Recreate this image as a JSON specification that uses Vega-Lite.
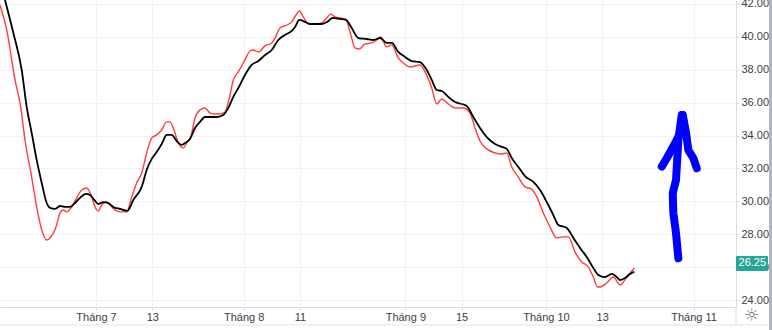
{
  "$schema": "https://vega.github.io/schema/vega-lite/v6.json",
  "width": 736,
  "height": 307,
  "autosize": {"type": "none"},
  "padding": {"left": 0, "top": 0, "right": 36, "bottom": 23},
  "background": "white",
  "config": {"view": {"stroke": null}, "font": "Liberation Sans", "axis": {"labelOverlap": false}},
  "datasets": {
    "ma": [
      {"s":"fast","bar":0.34,"v":41.94},{"s":"fast","bar":1.30,"v":40.42},{"s":"fast","bar":2.48,"v":37.38},{"s":"fast","bar":3.29,"v":35.74},{"s":"fast","bar":3.90,"v":33.73},{"s":"fast","bar":4.85,"v":31.48},{"s":"fast","bar":5.56,"v":29.66},{"s":"fast","bar":6.28,"v":28.26},{"s":"fast","bar":6.99,"v":27.65},{"s":"fast","bar":7.46,"v":27.78},{"s":"fast","bar":8.31,"v":28.44},{"s":"fast","bar":8.88,"v":29.29},{"s":"fast","bar":9.35,"v":29.48},{"s":"fast","bar":9.83,"v":29.36},{"s":"fast","bar":10.54,"v":29.66},{"s":"fast","bar":11.25,"v":30.21},{"s":"fast","bar":11.97,"v":30.69},{"s":"fast","bar":12.68,"v":30.81},{"s":"fast","bar":13.39,"v":30.27},{"s":"fast","bar":13.86,"v":29.66},{"s":"fast","bar":14.33,"v":29.42},{"s":"fast","bar":14.81,"v":29.78},{"s":"fast","bar":15.42,"v":29.96},{"s":"fast","bar":15.99,"v":29.78},{"s":"fast","bar":16.70,"v":29.48},{"s":"fast","bar":17.41,"v":29.36},{"s":"fast","bar":18.37,"v":29.36},{"s":"fast","bar":19.08,"v":30.27},{"s":"fast","bar":19.79,"v":31.12},{"s":"fast","bar":20.50,"v":31.73},{"s":"fast","bar":21.21,"v":32.94},{"s":"fast","bar":21.92,"v":33.85},{"s":"fast","bar":22.63,"v":34.04},{"s":"fast","bar":23.34,"v":34.34},{"s":"fast","bar":24.06,"v":34.83},{"s":"fast","bar":24.53,"v":34.83},{"s":"fast","bar":25.09,"v":34.34},{"s":"fast","bar":25.71,"v":33.55},{"s":"fast","bar":26.42,"v":33.25},{"s":"fast","bar":26.90,"v":33.55},{"s":"fast","bar":27.47,"v":33.91},{"s":"fast","bar":28.08,"v":35.07},{"s":"fast","bar":28.79,"v":35.56},{"s":"fast","bar":29.50,"v":35.68},{"s":"fast","bar":30.22,"v":35.37},{"s":"fast","bar":30.93,"v":35.31},{"s":"fast","bar":31.64,"v":35.31},{"s":"fast","bar":32.35,"v":35.43},{"s":"fast","bar":32.96,"v":36.29},{"s":"fast","bar":33.53,"v":37.38},{"s":"fast","bar":34.24,"v":37.87},{"s":"fast","bar":34.95,"v":38.41},{"s":"fast","bar":35.19,"v":38.60},{"s":"fast","bar":35.90,"v":39.14},{"s":"fast","bar":36.37,"v":39.20},{"s":"fast","bar":37.09,"v":39.08},{"s":"fast","bar":38.04,"v":39.45},{"s":"fast","bar":38.99,"v":39.63},{"s":"fast","bar":39.46,"v":39.93},{"s":"fast","bar":40.17,"v":40.54},{"s":"fast","bar":41.13,"v":40.72},{"s":"fast","bar":41.84,"v":40.91},{"s":"fast","bar":42.45,"v":41.33},{"s":"fast","bar":42.92,"v":41.57},{"s":"fast","bar":43.49,"v":41.21},{"s":"fast","bar":44.20,"v":40.78},{"s":"fast","bar":45.15,"v":40.78},{"s":"fast","bar":46.11,"v":40.84},{"s":"fast","bar":46.82,"v":41.15},{"s":"fast","bar":47.39,"v":41.39},{"s":"fast","bar":48.00,"v":41.21},{"s":"fast","bar":48.71,"v":41.15},{"s":"fast","bar":49.56,"v":41.03},{"s":"fast","bar":50.13,"v":40.30},{"s":"fast","bar":50.84,"v":39.33},{"s":"fast","bar":51.45,"v":39.26},{"s":"fast","bar":52.26,"v":39.57},{"s":"fast","bar":53.22,"v":39.63},{"s":"fast","bar":53.93,"v":39.81},{"s":"fast","bar":54.50,"v":39.99},{"s":"fast","bar":55.35,"v":39.39},{"s":"fast","bar":56.06,"v":39.51},{"s":"fast","bar":57.00,"v":38.72},{"s":"fast","bar":57.71,"v":38.41},{"s":"fast","bar":58.66,"v":38.17},{"s":"fast","bar":60.09,"v":38.29},{"s":"fast","bar":60.80,"v":37.87},{"s":"fast","bar":61.75,"v":36.89},{"s":"fast","bar":62.46,"v":35.92},{"s":"fast","bar":63.17,"v":36.22},{"s":"fast","bar":64.11,"v":35.92},{"s":"fast","bar":65.07,"v":35.68},{"s":"fast","bar":66.25,"v":35.68},{"s":"fast","bar":67.20,"v":35.37},{"s":"fast","bar":67.91,"v":34.46},{"s":"fast","bar":68.62,"v":33.67},{"s":"fast","bar":69.58,"v":33.19},{"s":"fast","bar":70.76,"v":32.94},{"s":"fast","bar":71.71,"v":32.88},{"s":"fast","bar":72.42,"v":32.94},{"s":"fast","bar":73.13,"v":32.09},{"s":"fast","bar":74.07,"v":31.48},{"s":"fast","bar":75.02,"v":30.88},{"s":"fast","bar":75.98,"v":30.75},{"s":"fast","bar":76.69,"v":30.27},{"s":"fast","bar":77.63,"v":29.29},{"s":"fast","bar":78.58,"v":28.44},{"s":"fast","bar":79.53,"v":27.78},{"s":"fast","bar":80.47,"v":27.84},{"s":"fast","bar":81.18,"v":27.84},{"s":"fast","bar":82.14,"v":26.92},{"s":"fast","bar":83.09,"v":26.32},{"s":"fast","bar":84.03,"v":26.01},{"s":"fast","bar":84.74,"v":25.40},{"s":"fast","bar":85.31,"v":24.80},{"s":"fast","bar":85.69,"v":24.80},{"s":"fast","bar":86.64,"v":25.04},{"s":"fast","bar":87.58,"v":25.40},{"s":"fast","bar":88.54,"v":24.92},{"s":"fast","bar":89.49,"v":25.40},{"s":"fast","bar":90.57,"v":25.95},
      {"s":"slow","bar":0.34,"v":43.46},{"s":"slow","bar":1.06,"v":42.24},{"s":"slow","bar":2.24,"v":40.24},{"s":"slow","bar":3.43,"v":37.99},{"s":"slow","bar":4.14,"v":35.74},{"s":"slow","bar":4.85,"v":34.16},{"s":"slow","bar":5.56,"v":32.52},{"s":"slow","bar":6.28,"v":31.12},{"s":"slow","bar":6.99,"v":29.90},{"s":"slow","bar":7.46,"v":29.60},{"s":"slow","bar":8.17,"v":29.54},{"s":"slow","bar":8.88,"v":29.72},{"s":"slow","bar":9.59,"v":29.66},{"s":"slow","bar":10.30,"v":29.66},{"s":"slow","bar":11.01,"v":29.90},{"s":"slow","bar":11.72,"v":30.21},{"s":"slow","bar":12.58,"v":30.45},{"s":"slow","bar":13.14,"v":30.39},{"s":"slow","bar":13.76,"v":30.09},{"s":"slow","bar":14.33,"v":29.84},{"s":"slow","bar":15.04,"v":29.96},{"s":"slow","bar":15.75,"v":29.90},{"s":"slow","bar":16.46,"v":29.66},{"s":"slow","bar":17.41,"v":29.54},{"s":"slow","bar":18.45,"v":29.42},{"s":"slow","bar":19.31,"v":30.09},{"s":"slow","bar":20.50,"v":30.88},{"s":"slow","bar":21.21,"v":31.91},{"s":"slow","bar":21.92,"v":32.58},{"s":"slow","bar":22.63,"v":33.00},{"s":"slow","bar":23.34,"v":33.49},{"s":"slow","bar":24.06,"v":34.04},{"s":"slow","bar":24.77,"v":34.04},{"s":"slow","bar":25.48,"v":33.67},{"s":"slow","bar":26.19,"v":33.43},{"s":"slow","bar":26.66,"v":33.55},{"s":"slow","bar":27.37,"v":33.79},{"s":"slow","bar":28.08,"v":34.46},{"s":"slow","bar":28.79,"v":34.83},{"s":"slow","bar":29.50,"v":35.13},{"s":"slow","bar":30.46,"v":35.13},{"s":"slow","bar":31.17,"v":35.13},{"s":"slow","bar":32.11,"v":35.25},{"s":"slow","bar":32.82,"v":35.68},{"s":"slow","bar":33.53,"v":36.35},{"s":"slow","bar":34.24,"v":36.89},{"s":"slow","bar":35.19,"v":37.68},{"s":"slow","bar":36.14,"v":38.29},{"s":"slow","bar":37.09,"v":38.53},{"s":"slow","bar":38.04,"v":38.90},{"s":"slow","bar":38.99,"v":39.20},{"s":"slow","bar":39.93,"v":39.81},{"s":"slow","bar":40.88,"v":40.12},{"s":"slow","bar":41.84,"v":40.36},{"s":"slow","bar":42.31,"v":40.60},{"s":"slow","bar":42.92,"v":41.03},{"s":"slow","bar":43.73,"v":40.91},{"s":"slow","bar":44.44,"v":40.78},{"s":"slow","bar":46.11,"v":40.78},{"s":"slow","bar":46.90,"v":40.91},{"s":"slow","bar":47.67,"v":41.15},{"s":"slow","bar":48.71,"v":41.09},{"s":"slow","bar":49.56,"v":41.03},{"s":"slow","bar":50.37,"v":40.54},{"s":"slow","bar":51.31,"v":39.93},{"s":"slow","bar":52.51,"v":39.87},{"s":"slow","bar":53.45,"v":39.81},{"s":"slow","bar":54.40,"v":39.93},{"s":"slow","bar":55.35,"v":39.63},{"s":"slow","bar":56.06,"v":39.63},{"s":"slow","bar":57.00,"v":39.08},{"s":"slow","bar":57.95,"v":38.78},{"s":"slow","bar":58.91,"v":38.53},{"s":"slow","bar":60.09,"v":38.47},{"s":"slow","bar":61.04,"v":37.99},{"s":"slow","bar":61.75,"v":37.38},{"s":"slow","bar":62.46,"v":36.77},{"s":"slow","bar":63.17,"v":36.71},{"s":"slow","bar":64.11,"v":36.35},{"s":"slow","bar":65.07,"v":36.04},{"s":"slow","bar":66.02,"v":35.92},{"s":"slow","bar":66.73,"v":35.80},{"s":"slow","bar":67.67,"v":35.13},{"s":"slow","bar":68.62,"v":34.46},{"s":"slow","bar":69.58,"v":33.91},{"s":"slow","bar":70.76,"v":33.49},{"s":"slow","bar":71.71,"v":33.31},{"s":"slow","bar":72.42,"v":33.19},{"s":"slow","bar":73.13,"v":32.64},{"s":"slow","bar":74.07,"v":32.09},{"s":"slow","bar":75.02,"v":31.54},{"s":"slow","bar":76.21,"v":31.18},{"s":"slow","bar":77.16,"v":30.69},{"s":"slow","bar":78.11,"v":29.96},{"s":"slow","bar":79.05,"v":29.17},{"s":"slow","bar":79.76,"v":28.57},{"s":"slow","bar":80.96,"v":28.38},{"s":"slow","bar":81.90,"v":27.78},{"s":"slow","bar":82.85,"v":27.17},{"s":"slow","bar":83.80,"v":26.62},{"s":"slow","bar":84.74,"v":25.95},{"s":"slow","bar":85.45,"v":25.53},{"s":"slow","bar":86.40,"v":25.40},{"s":"slow","bar":87.36,"v":25.59},{"s":"slow","bar":88.07,"v":25.40},{"s":"slow","bar":88.54,"v":25.22},{"s":"slow","bar":89.25,"v":25.34},{"s":"slow","bar":89.96,"v":25.59},{"s":"slow","bar":90.57,"v":25.71}
    ],
    "arrow": [
      {"stroke":"shaft","o":1,"bar":96.83,"v":26.54},{"stroke":"shaft","o":2,"bar":96.50,"v":28.06},{"stroke":"shaft","o":3,"bar":96.12,"v":29.28},{"stroke":"shaft","o":4,"bar":96.03,"v":30.49},{"stroke":"shaft","o":5,"bar":96.50,"v":31.30},{"stroke":"shaft","o":6,"bar":96.83,"v":33.73},{"stroke":"shaft","o":7,"bar":97.31,"v":35.25},
      {"stroke":"left","o":1,"bar":94.47,"v":32.11},{"stroke":"left","o":2,"bar":95.18,"v":32.62},{"stroke":"left","o":3,"bar":96.36,"v":33.53},{"stroke":"left","o":4,"bar":97.07,"v":34.14},{"stroke":"left","o":5,"bar":97.40,"v":35.25},
      {"stroke":"right","o":1,"bar":97.46,"v":35.25},{"stroke":"right","o":2,"bar":97.93,"v":34.14},{"stroke":"right","o":3,"bar":98.25,"v":33.12},{"stroke":"right","o":4,"bar":98.97,"v":32.62},{"stroke":"right","o":5,"bar":99.45,"v":32.01}
    ],
    "last": [{"price": 26.25, "label": "26.25"}]
  },
  "layer": [
    {
      "data": {"name": "ma"},
      "mark": {"type": "line", "interpolate": "monotone", "clip": true},
      "encoding": {
        "x": {
          "field": "bar", "type": "quantitative",
          "scale": {"domain": [0.344, 105.03], "nice": false, "zero": false},
          "axis": {
            "orient": "bottom", "title": null,
            "values": [14, 22, 35, 43, 58, 66, 78, 86, 99],
            "tickCount": 20,
            "labelExpr": "['Tháng 7','13','Tháng 8','11','Tháng 9','15','Tháng 10','13','Tháng 11'][indexof([14,22,35,43,58,66,78,86,99], datum.value)]",
            "grid": true, "gridColor": "#eff1f4", "gridWidth": 1,
            "domainColor": "#d9dce2", "tickColor": "#d9dce2", "tickSize": 3,
            "labelColor": "#3a3d45", "labelFontSize": 11, "labelPadding": 1,
            "labelFont": "Liberation Sans", "labelFlush": false, "labelOverlap": false
          }
        },
        "y": {
          "field": "v", "type": "quantitative",
          "scale": {"domain": [23.58, 42.24], "nice": false, "zero": false},
          "axis": {
            "orient": "right", "title": null,
            "values": [24, 26, 28, 30, 32, 34, 36, 38, 40, 42],
            "tickCount": 12,
            "format": ".2f",
            "grid": true, "gridColor": "#eff1f4", "gridWidth": 1,
            "domainColor": "#d9dce2", "tickColor": "#d9dce2", "tickSize": 3,
            "labelColor": "#3a3d45", "labelFontSize": 11, "labelPadding": 2,
            "labelFont": "Liberation Sans", "labelFlush": false, "labelOverlap": false
          }
        },
        "color": {"field": "s", "type": "nominal", "sort": ["fast", "slow"], "scale": {"domain": ["fast", "slow"], "range": ["#ff3d3d", "#000000"]}, "legend": null},
        "strokeWidth": {"field": "s", "type": "nominal", "scale": {"domain": ["fast", "slow"], "range": [1.4, 1.8]}, "legend": null}
      }
    },
    {
      "data": {"name": "arrow"},
      "mark": {"type": "line", "color": "#0000ff", "strokeWidth": 8, "strokeCap": "round", "strokeJoin": "round"},
      "encoding": {
        "x": {"field": "bar", "type": "quantitative"},
        "y": {"field": "v", "type": "quantitative"},
        "detail": {"field": "stroke"},
        "order": {"field": "o", "type": "quantitative"}
      }
    },
    {
      "data": {"values": [{}]},
      "mark": {"type": "rule", "color": "#e0e3eb", "strokeWidth": 1},
      "encoding": {
        "x": {"datum": 0.344, "type": "quantitative"},
        "x2": {"datum": 109.73},
        "y": {"datum": 22.49, "type": "quantitative"}
      }
    },
    {
      "data": {"values": [{}]},
      "mark": {"type": "rule", "color": "#d9dce2", "strokeWidth": 1},
      "encoding": {
        "x": {"datum": 105.03, "type": "quantitative"},
        "y": {"datum": 23.58, "type": "quantitative"},
        "y2": {"datum": 22.49}
      }
    },
    {
      "data": {"values": [{}]},
      "mark": {"type": "rect", "color": "#b2b5be"},
      "encoding": {
        "x": {"datum": 109.73, "type": "quantitative"},
        "x2": {"datum": 110.3},
        "y": {"datum": 43.5, "type": "quantitative"},
        "y2": {"datum": 21.5}
      }
    },
    {
      "data": {"name": "last"},
      "mark": {"type": "rect", "color": "#26a69a", "cornerRadius": 1},
      "encoding": {
        "x": {"datum": 105.03, "type": "quantitative"},
        "x2": {"datum": 109.59},
        "y": {"datum": 26.68, "type": "quantitative"},
        "y2": {"datum": 25.77}
      }
    },
    {
      "data": {"name": "last"},
      "mark": {"type": "text", "color": "white", "fontSize": 11, "font": "Liberation Sans", "align": "center", "baseline": "middle"},
      "encoding": {
        "x": {"datum": 107.35, "type": "quantitative"},
        "y": {"field": "price", "type": "quantitative"},
        "text": {"field": "label"}
      }
    },
    {
      "data": {"values": [{"icon": "☼"}]},
      "mark": {"type": "text", "color": "#6a6d78", "fontSize": 17, "font": "DejaVu Sans", "align": "center", "baseline": "middle"},
      "encoding": {
        "x": {"datum": 107.3, "type": "quantitative"},
        "y": {"datum": 23.03, "type": "quantitative"},
        "text": {"field": "icon"}
      }
    }
  ]
}
